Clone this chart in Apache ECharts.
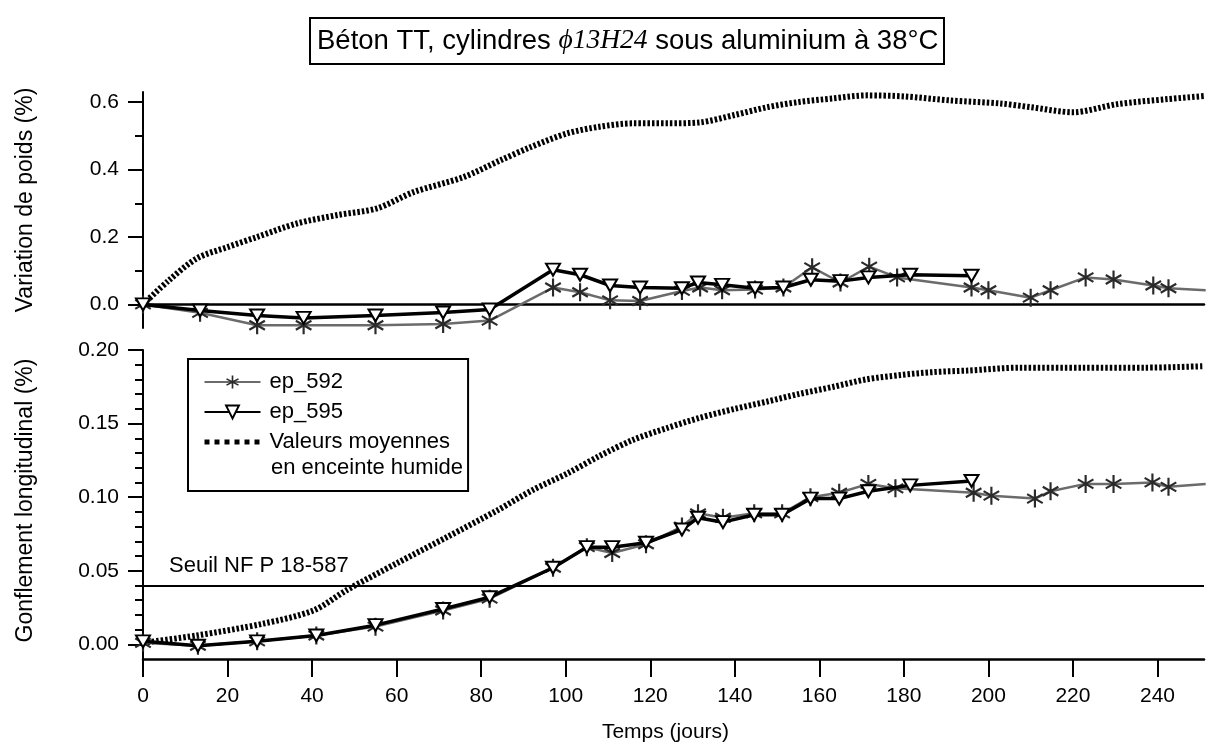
<!DOCTYPE html>
<html><head><meta charset="utf-8">
<script src="https://cdn.jsdelivr.net/npm/echarts@6/dist/echarts.min.js"></script>
<style>html,body{margin:0;padding:0;background:#fff}#c{width:1216px;height:747px}</style>
</head><body><div id="c"></div>
<script>
// ---- Data: variation de poids (%) ----
const wDays592 = [0, 13.5, 27, 38, 55, 71, 82, 97, 103.4, 110.5, 117.6, 127.5, 131.8, 137, 144.8, 151.5, 158.3, 165, 171.8, 178.4, 196, 200, 210, 214.7, 223, 229.6, 239, 242.6, 251.4];
const w592 = [0, -0.025, -0.062, -0.062, -0.062, -0.058, -0.048, 0.05, 0.036, 0.012, 0.01, 0.04, 0.05, 0.042, 0.044, 0.05, 0.11, 0.065, 0.112, 0.08, 0.05, 0.042, 0.02, 0.042, 0.08, 0.074, 0.056, 0.048, 0.042];
const wDays595 = [0, 13.5, 27, 38, 55, 71, 82, 97, 103.4, 110.5, 117.6, 127.5, 131.3, 137, 144.8, 151.5, 158, 165, 171.6, 181.5, 196];
const w595 = [0, -0.018, -0.033, -0.04, -0.033, -0.024, -0.015, 0.103, 0.088, 0.056, 0.05, 0.048, 0.065, 0.058, 0.048, 0.05, 0.073, 0.069, 0.08, 0.088, 0.085];
const wMeanDays = [0, 6, 12.8, 20, 27, 36.4, 46, 55.4, 64, 75.7, 84.5, 91.6, 100.3, 108, 116, 124, 131.8, 140, 147.7, 155, 163.3, 171.3, 180, 191, 202.8, 210, 220, 230.5, 242.4, 251];
const wMean = [0, 0.07, 0.137, 0.17, 0.2, 0.24, 0.265, 0.285, 0.333, 0.377, 0.427, 0.466, 0.507, 0.527, 0.537, 0.537, 0.54, 0.562, 0.585, 0.6, 0.611, 0.62, 0.617, 0.605, 0.596, 0.585, 0.57, 0.594, 0.609, 0.618];

// ---- Data: gonflement longitudinal (%) ----
const sDays592 = [0, 13, 27, 41, 55, 71, 82, 97, 105, 111, 119, 127.5, 131.3, 137.2, 144.6, 151.2, 157.9, 164.7, 171.6, 178, 196.5, 200.7, 211, 214.7, 223, 229.6, 238.8, 242.6, 251.4];
const s592 = [0.001, -0.001, 0.002, 0.006, 0.012, 0.023, 0.031, 0.052, 0.066, 0.062, 0.068, 0.08, 0.089, 0.086, 0.089, 0.089, 0.1, 0.103, 0.109, 0.106, 0.103, 0.101, 0.099, 0.104, 0.109, 0.109, 0.11, 0.107, 0.109];
const sDays595 = [0, 13, 27, 41, 55, 71, 82, 97, 105, 111, 119, 127.5, 131.3, 137.2, 144.6, 151.2, 157.9, 164.7, 171.6, 181.5, 196];
const s595 = [0.002, -0.001, 0.002, 0.006, 0.013, 0.024, 0.032, 0.052, 0.066, 0.066, 0.069, 0.078, 0.086, 0.083, 0.088, 0.088, 0.099, 0.099, 0.104, 0.108, 0.111];
const sMeanDays = [0, 12.7, 28.4, 40.3, 48.3, 60, 72, 83.8, 92.3, 100.3, 108, 116, 124, 131.8, 140, 147.7, 155, 163.3, 171, 179.2, 187, 195, 207.6, 222.5, 237, 251];
const sMean = [0.001, 0.006, 0.014, 0.023, 0.037, 0.055, 0.073, 0.091, 0.105, 0.116, 0.128, 0.139, 0.147, 0.154, 0.16, 0.165, 0.17, 0.175, 0.18, 0.183, 0.185, 0.186, 0.188, 0.188, 0.188, 0.189];
const threshold = 0.04;

// ---- Ticks and labels ----
const xTicks = [0, 20, 40, 60, 80, 100, 120, 140, 160, 180, 200, 220, 240];
const wTicks = [0, 0.2, 0.4, 0.6];
const wMinor = [0.1, 0.3, 0.5];
const sTicks = [0, 0.05, 0.1, 0.15, 0.2];
const sMinor = [0.01, 0.02, 0.03, 0.04, 0.06, 0.07, 0.08, 0.09, 0.11, 0.12, 0.13, 0.14, 0.16, 0.17, 0.18, 0.19];
const names = ['ep_592', 'ep_595', 'Valeurs moyennes'];
const titleA = 'Béton TT, cylindres ';
const titleB = 'ϕ13H24';
const titleC = ' sous aluminium à 38°C';
const legendLine2 = 'en enceinte humide';
const thresholdLabel = 'Seuil NF P 18-587';

const FONT = 'Liberation Sans, Arial, sans-serif';
const pairs = (d, v) => d.map((x, i) => [x, v[i]]);
const STAR = 'path://M-1.2,10L1.2,10L1.2,-10L-1.2,-10Z M8.06,6.04L9.26,3.96L-8.06,-6.04L-9.26,-3.96Z M-9.26,3.96L-8.06,6.04L9.26,-3.96L8.06,-6.04Z';

function s592Series(xi, yi, data) {
  return { name: names[0], type: 'line', xAxisIndex: xi, yAxisIndex: yi, data,
    symbol: STAR, symbolSize: 18, symbolKeepAspect: true, showAllSymbol: true,
    lineStyle: { color: '#6b6b6b', width: 2.5 }, itemStyle: { color: '#2a2a2a' }, z: 3, animation: false };
}
function s595Series(xi, yi, data, extra) {
  return Object.assign({ name: names[1], type: 'line', xAxisIndex: xi, yAxisIndex: yi, data,
    symbol: 'triangle', symbolRotate: 180, symbolSize: [14, 12], showAllSymbol: true,
    lineStyle: { color: '#000', width: 3.5 }, itemStyle: { color: '#fff', borderColor: '#000', borderWidth: 2 }, z: 4, animation: false }, extra || {});
}
function meanSeries(xi, yi, data) {
  return { name: names[2], type: 'line', xAxisIndex: xi, yAxisIndex: yi, data, smooth: 0.3,
    symbol: 'emptyCircle', symbolSize: 0.01, showSymbol: false,
    lineStyle: { color: '#000', width: 6, type: [2.5, 2] }, itemStyle: { color: '#000', opacity: 0 }, z: 2, animation: false };
}
function yMain(gi, min, max, ticks, dec, name, namePad) {
  return { type: 'value', gridIndex: gi, min, max, position: 'left',
    axisLine: { show: true, onZero: false, lineStyle: { color: '#000', width: 2 } },
    axisTick: { show: true, customValues: ticks, length: 15, lineStyle: { color: '#000', width: 2 } },
    axisLabel: { show: true, customValues: ticks, formatter: v => v.toFixed(dec), margin: 24, fontSize: 21, color: '#000', fontFamily: FONT },
    splitLine: { show: false },
    name, nameLocation: 'middle', nameGap: 106, nameRotate: 90,
    nameTextStyle: { fontSize: 23, color: '#000', fontFamily: FONT, padding: namePad } };
}
function yMinor(gi, min, max, ticks) {
  return { type: 'value', gridIndex: gi, min, max, position: 'left',
    axisLine: { show: false, onZero: false },
    axisTick: { show: true, customValues: ticks, length: 8, lineStyle: { color: '#000', width: 2 } },
    axisLabel: { show: false }, splitLine: { show: false } };
}

const chart = echarts.init(document.getElementById('c'));
chart.setOption({
  backgroundColor: '#fff',
  animation: false,
  title: {
    text: '{a|' + titleA + '}{b|' + titleB + '}{a|' + titleC + '}',
    left: 310, top: 18,
    borderColor: '#000', borderWidth: 2, padding: [9, 6, 9, 7],
    textStyle: { fontWeight: 'normal', rich: {
      a: { fontSize: 27.5, fontWeight: 'normal', fontFamily: FONT, color: '#000' },
      b: { fontSize: 27.5, fontWeight: 'normal', fontFamily: 'Liberation Serif, serif', fontStyle: 'italic', color: '#000' } } }
  },
  legend: {
    data: [names[0], names[1], { name: names[2], lineStyle: { width: 5, type: [5, 5] } }],
    orient: 'vertical', left: 188, top: 359,
    itemWidth: 56, itemHeight: 16, itemGap: 8,
    padding: [12, 18, 38, 14],
    borderColor: '#000', borderWidth: 2, selectedMode: false,
    textStyle: { fontSize: 22, color: '#000', fontFamily: FONT, padding: [0, 0, 0, 4] }
  },
  graphic: [
    { type: 'text', left: 271, top: 457, z: 100,
      style: { text: legendLine2, fontSize: 22, fontFamily: FONT, fill: '#000' } }
  ],
  grid: [
    { left: 143, top: 92, width: 1061, height: 236, containLabel: false },
    { left: 143, top: 350, width: 1061, height: 309, containLabel: false }
  ],
  xAxis: [
    { type: 'value', gridIndex: 0, min: 0, max: 251,
      axisLine: { show: true, onZero: true, lineStyle: { color: '#000', width: 2.5 } },
      axisTick: { show: false }, axisLabel: { show: false }, splitLine: { show: false } },
    { type: 'value', gridIndex: 1, min: 0, max: 251,
      axisLine: { show: true, onZero: false, lineStyle: { color: '#000', width: 2.5 } },
      axisTick: { show: true, customValues: xTicks, length: 18, lineStyle: { color: '#000', width: 2 } },
      axisLabel: { show: true, customValues: xTicks, margin: 27, fontSize: 21, color: '#000', fontFamily: FONT },
      splitLine: { show: false },
      name: 'Temps (jours)', nameLocation: 'middle', nameGap: 63,
      nameTextStyle: { fontSize: 21, color: '#000', fontFamily: FONT, padding: [0, 16, 0, 0] } }
  ],
  yAxis: [
    yMain(0, -0.07, 0.63, wTicks, 1, 'Variation de poids (%)', [0, 0, 0, 20]),
    yMinor(0, -0.07, 0.63, wMinor),
    yMain(1, -0.01, 0.2, sTicks, 2, 'Gonflement longitudinal (%)', [0, 0, 0, 8]),
    yMinor(1, -0.01, 0.2, sMinor)
  ],
  series: [
    meanSeries(0, 0, pairs(wMeanDays, wMean)),
    s592Series(0, 0, pairs(wDays592, w592)),
    s595Series(0, 0, pairs(wDays595, w595)),
    meanSeries(1, 2, pairs(sMeanDays, sMean)),
    s592Series(1, 2, pairs(sDays592, s592)),
    s595Series(1, 2, pairs(sDays595, s595), {
      markLine: { silent: true, symbol: 'none', animation: false,
        lineStyle: { color: '#000', width: 2, type: 'solid' },
        label: { show: true, position: 'insideStartTop', formatter: thresholdLabel, distance: [26, 8],
          fontSize: 22, color: '#000', fontFamily: FONT },
        data: [{ yAxis: threshold }] }
    })
  ]
});
</script>
</body></html>
